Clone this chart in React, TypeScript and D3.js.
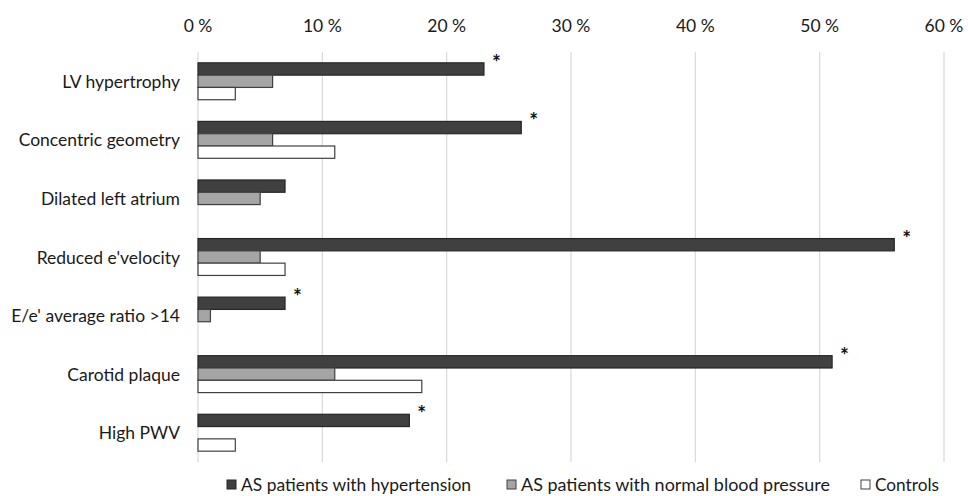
import React from "react";
import * as d3 from "d3";

const categories = [
  "LV hypertrophy",
  "Concentric geometry",
  "Dilated left atrium",
  "Reduced e'velocity",
  "E/e' average ratio >14",
  "Carotid plaque",
  "High PWV",
];
const seriesNames = [
  "AS patients with hypertension",
  "AS patients with normal blood pressure",
  "Controls",
];
const hypertension = [23, 26, 7, 56, 7, 51, 17];
const normalBP = [6, 6, 5, 5, 1, 11, 0];
const controls = [3, 11, 0, 7, 0, 18, 3];
const significant = [true, true, false, true, true, true, true];
const tickValues = [0, 10, 20, 30, 40, 50, 60];

const fills = ["#404040", "#a5a5a5", "#ffffff"];
const strokes = ["#262626", "#404040", "#404040"];
const FONT = "Lato, 'Open Sans', sans-serif";

export default function App() {
  const W = 968, H = 496;
  const x = d3.scaleLinear().domain([0, 60]).range([198, 944]);
  const y = d3
    .scaleBand<string>()
    .domain(categories)
    .range([52, 462])
    .paddingInner(0.37)
    .paddingOuter(0.185);
  const inner = d3
    .scaleBand<number>()
    .domain([0, 1, 2])
    .range([0, y.bandwidth()]);
  const values = [hypertension, normalBP, controls];

  const legendItems = [
    { x: 227, w: 230 },
    { x: 507, w: 309 },
    { x: 861, w: 64 },
  ];

  return (
    <svg
      width={W}
      height={H}
      style={{ position: "absolute", left: 0, top: 0, background: "#fff" }}
      fontFamily={FONT}
    >
      {tickValues.map((t) => (
        <g key={t}>
          <line
            x1={x(t)}
            x2={x(t)}
            y1={52}
            y2={462}
            stroke="#d9d9d9"
            strokeWidth={1.2}
          />
          <text
            x={x(t)}
            y={32}
            textAnchor="middle"
            fontSize={17.5}
            fill="#1a1a1a"
          >
            {`${t} %`}
          </text>
        </g>
      ))}
      {categories.map((c, i) => (
        <g key={c}>
          <text
            x={180}
            y={(y(c) as number) + y.bandwidth() / 2 + 6.5}
            textAnchor="end"
            fontSize={17.5}
            fill="#1a1a1a"
          >
            {c}
          </text>
          {values.map((arr, s) =>
            arr[i] > 0 ? (
              <rect
                key={s}
                x={x(0)}
                y={(y(c) as number) + (inner(s) as number)}
                width={x(arr[i]) - x(0)}
                height={inner.bandwidth()}
                fill={fills[s]}
                stroke={strokes[s]}
                strokeWidth={1.2}
              />
            ) : null
          )}
          {significant[i] ? (
            <text
              x={x(hypertension[i]) + 8}
              y={(y(c) as number) + 7}
              fontSize={21}
              fontWeight="bold"
              fill="#111"
            >
              *
            </text>
          ) : null}
        </g>
      ))}
      {seriesNames.map((n, s) => (
        <g key={n}>
          <rect
            x={legendItems[s].x}
            y={480}
            width={9}
            height={9}
            fill={fills[s]}
            stroke={strokes[s]}
            strokeWidth={1}
          />
          <text
            x={legendItems[s].x + 14}
            y={491}
            fontSize={17}
            fill="#1a1a1a"
            textLength={legendItems[s].w}
            lengthAdjust="spacingAndGlyphs"
          >
            {n}
          </text>
        </g>
      ))}
    </svg>
  );
}
